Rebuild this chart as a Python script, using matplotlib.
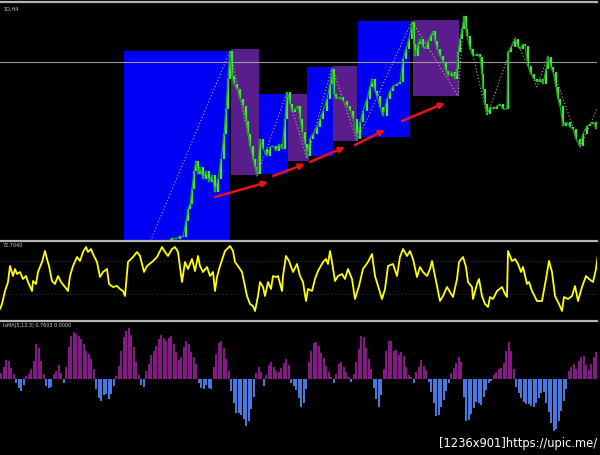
import numpy as np
import matplotlib
matplotlib.use("Agg")
import matplotlib.pyplot as plt
from matplotlib.lines import Line2D
from matplotlib.patches import Rectangle

# ---- main price panel (bar time, price level) ----
price_t = [168, 172, 176, 180, 183, 186, 188, 190, 192, 194, 196, 198, 200, 203, 206, 209, 212, 215, 218, 221,
           224, 226, 228, 230, 232, 234, 237, 240, 243, 246, 248, 250, 253, 255, 257, 260, 263, 267, 270, 273,
           276, 279, 282, 285, 287, 290, 292, 295, 298, 300, 302, 305, 307, 310, 313, 317, 320, 323, 327, 330,
           332, 334, 336, 340, 343, 347, 350, 353, 357, 360, 363, 367, 370, 372, 375, 377, 380, 383, 387, 390,
           393, 397, 400, 403, 406, 409, 412, 414, 415, 418, 420, 423, 425, 428, 431, 433, 435, 437, 440, 443,
           446, 448, 452, 455, 457, 458, 460, 462, 464, 466, 467, 470, 473, 477, 480, 482, 483, 485, 487, 490,
           494, 497, 500, 503, 507, 508, 511, 515, 518, 520, 523, 525, 528, 531, 534, 537, 540, 543, 546, 548,
           551, 553, 556, 558, 560, 563, 566, 570, 573, 576, 580, 583, 587, 590, 593, 596, 598]
price = [-2, 2, 1, 4, 3, 19, 31, 36, 51, 69, 79, 66, 73, 61, 69, 58, 65, 48, 61, 81,
         106, 131, 161, 189, 164, 156, 151, 141, 134, 119, 106, 94, 81, 73, 66, 101, 91, 84, 93, 94,
         89, 96, 91, 121, 148, 136, 128, 131, 134, 121, 108, 96, 84, 101, 106, 113, 121, 129, 141, 156,
         171, 146, 141, 143, 139, 134, 129, 121, 101, 118, 129, 141, 153, 161, 149, 144, 133, 124, 141, 149,
         154, 156, 158, 181, 191, 201, 218, 196, 184, 196, 201, 193, 191, 199, 205, 209, 199, 191, 184, 178,
         169, 164, 168, 161, 171, 188, 201, 211, 224, 211, 204, 191, 184, 186, 183, 166, 151, 136, 126, 133,
         131, 134, 136, 131, 131, 188, 193, 201, 193, 191, 196, 194, 174, 166, 161, 158, 161, 156, 171, 183,
         173, 168, 153, 141, 134, 114, 118, 113, 111, 101, 94, 106, 114, 116, 118, 111, 121]

zigzag_t = [148, 230, 257, 287, 307, 332, 357, 412, 458, 464, 487, 515, 537, 548, 580, 600]
zigzag = [-7, 189, 64, 148, 81, 173, 99, 219, 144, 224, 124, 203, 153, 184, 93, 138]

# (start, end, low, high)
blue_boxes = [(124, 229, 0, 189), (260, 288, 66, 146), (307, 333, 84, 173), (358, 410, 103, 219)]
purple_boxes = [(231, 259, 65, 191), (288, 309, 79, 146), (333, 357, 99, 174), (413, 459, 144, 220)]

# trend arrows ((t0, p0), (t1, p1))
arrows = [((215, 43), (268, 58)), ((273, 64), (305, 76)), ((310, 78), (345, 93)),
          ((355, 95), (385, 110)), ((402, 119), (445, 137))]
level_line = 178

# ---- oscillator panel ----
osc_t = [0, 2, 5, 8, 10, 13, 15, 17, 20, 23, 26, 28, 32, 33, 36, 38, 42, 45, 47, 49, 52, 55, 58, 61, 65, 68, 70,
         73, 77, 80, 83, 86, 88, 91, 93, 97, 100, 103, 107, 109, 113, 117, 120, 123, 125, 128, 133, 137, 140, 144,
         147, 152, 157, 162, 165, 168, 172, 175, 178, 182, 185, 188, 192, 195, 198,
         200, 203, 207, 210, 213, 215, 217, 220, 225, 230, 233, 235, 238, 242, 247, 250, 253, 255, 258, 260, 263,
         265, 268, 271, 273, 276, 278, 282, 283, 286, 289, 293, 297, 300, 303, 306, 308, 312, 315, 318, 323, 326,
         328, 330, 332, 335, 338, 342, 345, 348, 352, 355, 359, 363, 368, 372, 375, 378, 382, 385, 388, 393, 397,
         400, 403, 407, 410, 413, 417, 420, 423, 427, 430, 432, 435, 438,
         440, 443, 447, 450, 453, 457, 459, 463, 466, 468, 472, 473, 477, 479, 482, 485, 488, 490, 493, 497, 502,
         505, 507, 508, 512, 515, 518, 521, 523, 527, 529, 532, 537, 542, 546, 549, 552, 555, 559, 562, 564, 568,
         572, 575, 578, 582, 586, 589, 593, 596, 598]
osc = [10, 15, 28, 37, 53, 43, 50, 45, 47, 40, 43, 37, 28, 38, 35, 47, 57, 68, 60, 53, 38, 35, 43, 37, 32, 28, 43,
       53, 62, 58, 67, 72, 67, 70, 65, 57, 42, 47, 50, 35, 32, 33, 30, 28, 23, 57, 62, 67, 63, 47,
       53, 57, 62, 72, 67, 63, 70, 72, 67, 37, 57, 50, 60, 48, 63,
       53, 47, 52, 43, 47, 28, 42, 53, 68, 73, 68, 57, 53, 47, 23, 15, 13, 8, 23, 37, 32,
       23, 37, 30, 43, 42, 43, 28, 43, 63, 58, 47, 55, 43, 37, 18, 30, 28, 40, 48, 57, 60,
       55, 68, 57, 38, 43, 45, 40, 50, 40, 20, 33, 50, 57, 65, 43, 33, 20, 30, 53, 55, 43,
       62, 70, 63, 68, 60, 42, 52, 47, 43, 50, 58, 43, 28,
       18, 23, 32, 27, 22, 40, 57, 62, 52, 37, 32, 20, 35, 40, 23, 15, 12, 22, 20, 28, 32,
       25, 22, 68, 58, 60, 55, 47, 52, 35, 37, 28, 18, 18, 40, 58, 47, 23, 15, 8, 22, 20,
       23, 33, 18, 32, 43, 40, 37, 50, 65]
osc_levels = [58, 25]

# ---- histogram panel ----
hist = [6, 12, 19, 18, 11, 5, -4, -9, -12, -6,
        3, 5, 10, 18, 35, 31, 18, 5, -7, -9,
        -8, 5, 8, 14, 6, -4, 12, 32, 43, 47,
        45, 43, 40, 35, 28, 25, 20, 10, -10, -19,
        -22, -16, -15, -20, -15, -7, 3, 13, 28, 42,
        48, 51, 44, 32, 17, 4, -6, -8, 8, 15,
        24, 28, 33, 40, 44, 41, 38, 41, 43, 35,
        27, 19, 22, 32, 38, 35, 27, 22, 15, -4,
        -9, -10, -6, -9, -10, 12, 25, 36, 38, 31,
        20, 8, -12, -24, -34, -34, -36, -40, -47, -42,
        -30, -18, 6, 12, 7, -7, 4, 14, 17, 12,
        8, 7, 11, 16, 20, 14, -4, -7, -11, -19,
        -28, -24, -10, 17, 28, 36, 37, 33, 26, 21,
        13, 7, 2, -4, 5, 15, 17, 12, 7, 2,
        -3, 5, 17, 30, 43, 42, 31, 20, 10, -9,
        -20, -28, -16, 10, 28, 38, 38, 28, 29, 24,
        27, 23, 12, 4, 2, -4, 7, 12, 19, 13,
        9, -3, -13, -24, -37, -36, -28, -21, -12, -4,
        6, 11, 16, 22, 17, -18, -42, -41, -35, -29,
        -23, -24, -26, -18, -11, -4, -2, 4, 7, 10,
        11, 16, 28, 37, 28, 10, -8, -14, -19, -23,
        -25, -25, -27, -28, -24, -19, -14, -13, -24, -33,
        -44, -52, -50, -42, -32, -22, -10, 8, 12, 15,
        10, 18, 22, 23, 14, 9, 15, 22, 27]

W, H = 600, 456
fig = plt.figure(figsize=(6, 4.56), dpi=100, facecolor='black')


def panel(top, bottom):
    ax = fig.add_axes([0, 1 - bottom / H, 597 / W, (bottom - top) / H])
    ax.set_facecolor('black')
    ax.axis('off')
    return ax


# main chart
ax = panel(4, 241)
ax.set_xlim(0, 597)
ax.set_ylim(0, 237)
boxes = [blue_boxes[0], purple_boxes[0], blue_boxes[1], purple_boxes[1], blue_boxes[2],
         purple_boxes[2], blue_boxes[3], purple_boxes[3]]
cols = ['#0000f5', '#5a1e8c'] * 4
for (t0, t1, lo, hi), c in zip(boxes, cols):
    ax.add_patch(Rectangle((t0, lo), t1 - t0, hi - lo, color=c, lw=0))
ax.axhline(level_line, color='#9a9a9a', lw=0.8)
ax.plot(zigzag_t, zigzag, color='#d8a888', lw=0.8, ls=(0, (1, 2)))
p = np.array(price)
ax.vlines(price_t[1:], np.minimum(p[:-1], p[1:]), np.maximum(p[:-1], p[1:]), color='#48e048', lw=1.6)
ax.plot(price_t, price, color='#1aa01a', lw=0.9)
for (s, e) in arrows:
    ax.annotate('', xy=e, xytext=s,
                arrowprops=dict(arrowstyle='-|>', color='#e8141c', lw=1.8, mutation_scale=8,
                                shrinkA=0, shrinkB=0))

# oscillator
ax2 = panel(243, 320)
ax2.set_xlim(0, 597)
ax2.set_ylim(0, 77)
for lv in osc_levels:
    ax2.axhline(lv, color='#262626', lw=0.7, ls=(0, (2, 2)))
ax2.plot(osc_t, osc, color='#ffff00', lw=1.3)

# histogram
ax3 = panel(323, 456)
ax3.set_xlim(-0.5, 597 / 2.5 - 0.5)
ax3.set_ylim(-76, 57)
hv = np.array(hist)
ax3.bar(np.arange(len(hv)), hv, width=0.75,
        color=np.where(hv >= 0, '#841a84', '#4a78e0'), lw=0)

# separators
for y in [3, 241.5, 321.5]:
    fig.add_artist(Line2D([0, 597 / W], [1 - y / H, 1 - y / H], color='#b4b4b4', lw=1.6))

fig.text(3 / W, 1 - 9 / H, '1D,H4', color='#cfcfcf', fontsize=3.5, va='center')
fig.text(3 / W, 1 - 246 / H, '72.7040', color='#cfcfcf', fontsize=3.5, va='center')
fig.text(3 / W, 1 - 326 / H, 'IsMA(5,12,3) 0.7603 0.0000', color='#cfcfcf', fontsize=3.5, va='center')
fig.text(597 / W, 1 - 444 / H, '[1236x901]https://upic.me/', color='white', fontsize=8.3,
         ha='right', va='center')

fig.savefig('out.png', dpi=100, facecolor='black')
